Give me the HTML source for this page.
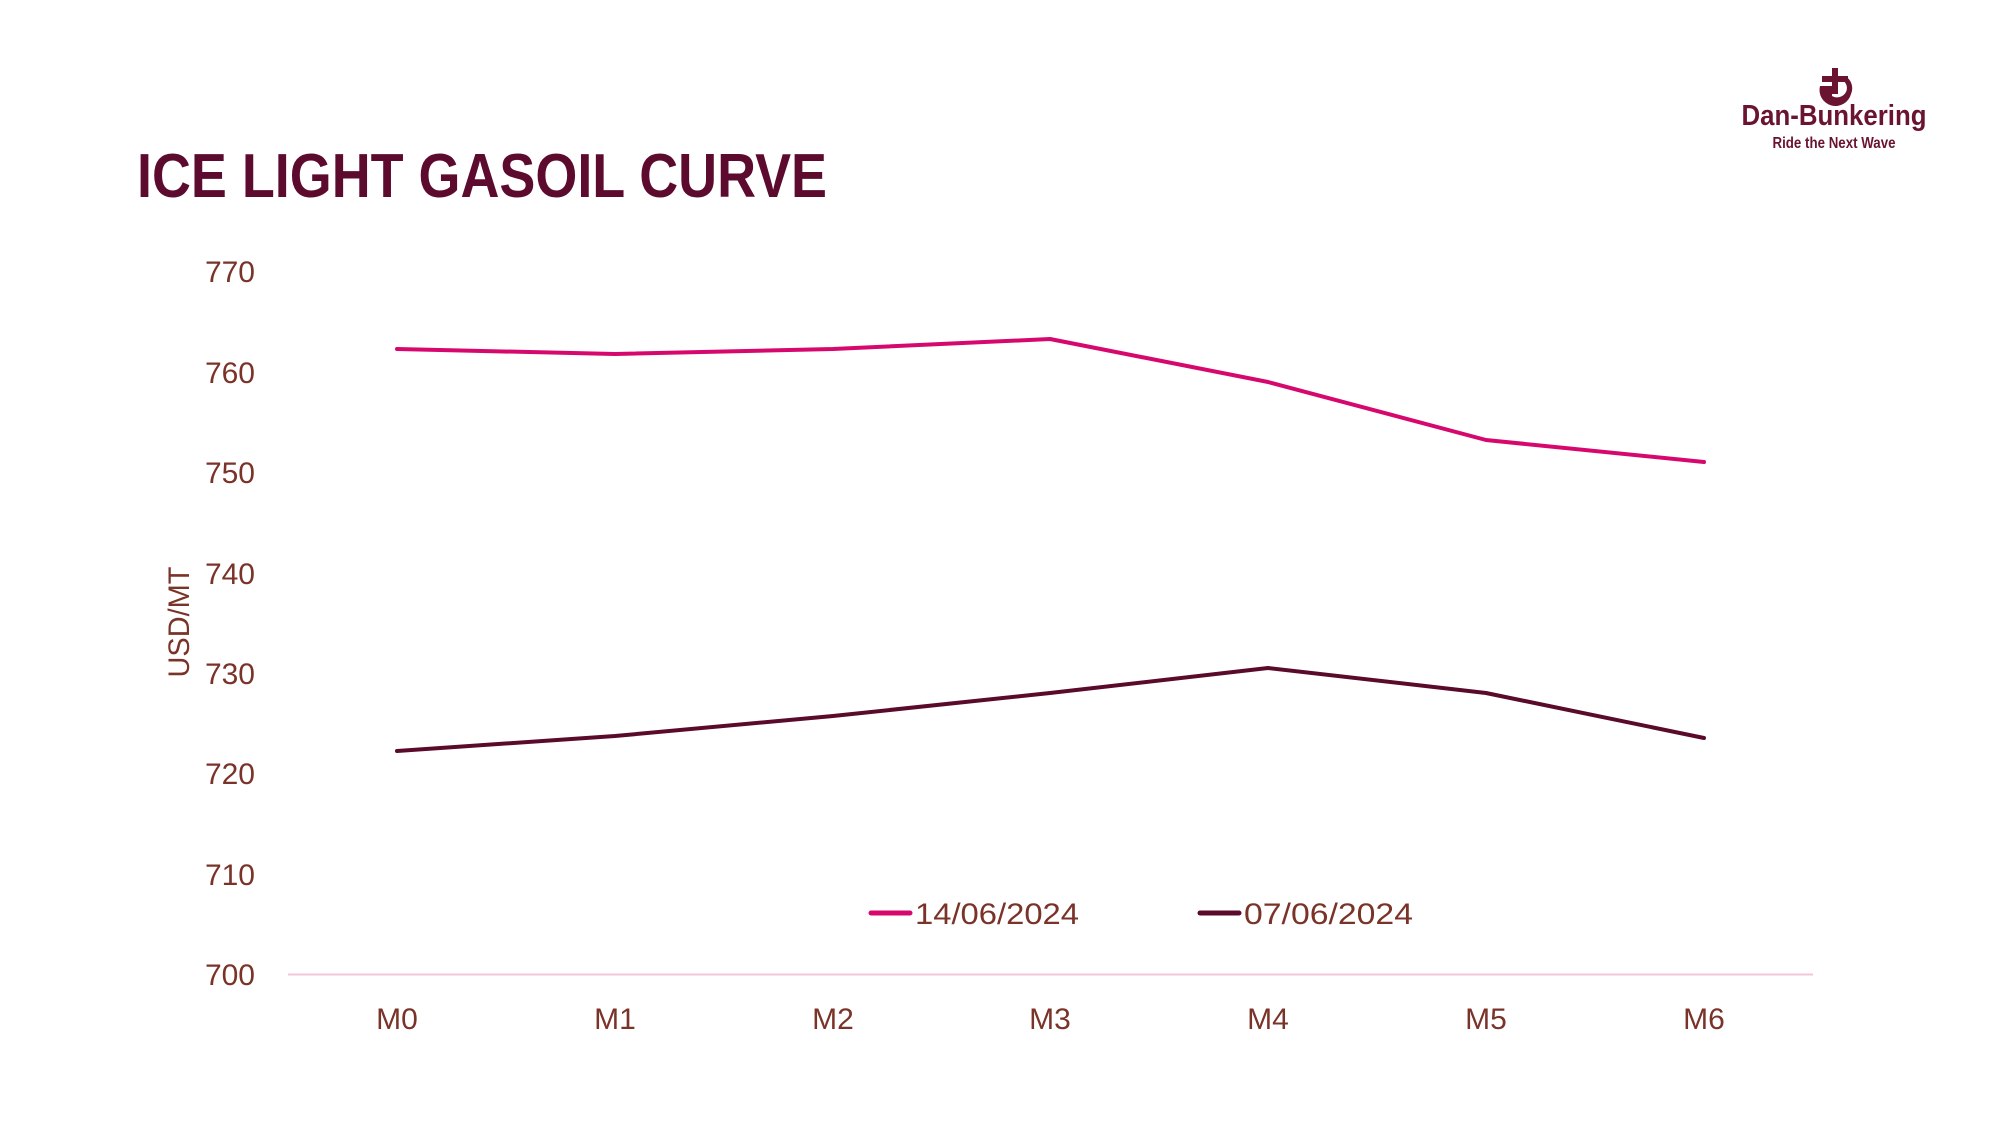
<!DOCTYPE html>
<html><head><meta charset="utf-8"><style>
html,body{margin:0;padding:0;background:#fff;}
svg{display:block;}
text{font-family:"Liberation Sans Narrow","Liberation Sans",sans-serif;}
</style></head><body>
<svg width="2000" height="1125" viewBox="0 0 2000 1125" xmlns="http://www.w3.org/2000/svg">
<rect width="2000" height="1125" fill="#fff"/>
<text x="137" y="197" font-size="62" font-weight="bold" fill="#5c0a2e" textLength="690" lengthAdjust="spacingAndGlyphs">ICE LIGHT GASOIL CURVE</text>
<g fill="#6a1432">
<rect x="1832" y="68" width="6" height="26"/>
<rect x="1822" y="76" width="26" height="6"/>
<path d="M1820 86 h12 v10 a10 10 0 0 0 14 -4 a9 9 0 0 0 -4 -12 l3 -4 a14 14 0 0 1 6 18 a15 15 0 0 1 -31 -8 z"/>
</g>
<text x="1834" y="125" font-size="29" font-weight="bold" fill="#6a1432" text-anchor="middle" font-family="Liberation Sans" textLength="185" lengthAdjust="spacingAndGlyphs">Dan-Bunkering</text>
<text x="1834" y="148" font-size="16" font-weight="bold" fill="#6a1432" text-anchor="middle" font-family="Liberation Sans" textLength="123" lengthAdjust="spacingAndGlyphs">Ride the Next Wave</text>
<g font-size="30" fill="#7a3328" text-anchor="end">
<text x="255" y="282">770</text>
<text x="255" y="383">760</text>
<text x="255" y="483">750</text>
<text x="255" y="584">740</text>
<text x="255" y="684">730</text>
<text x="255" y="784">720</text>
<text x="255" y="885">710</text>
<text x="255" y="985">700</text>
</g>
<text transform="translate(189,622) rotate(-90)" font-size="30" fill="#7a3328" text-anchor="middle" textLength="111" lengthAdjust="spacingAndGlyphs">USD/MT</text>
<line x1="288" y1="974.5" x2="1813" y2="974.5" stroke="#f4c6da" stroke-width="2"/>
<g font-size="30" fill="#7a3328" text-anchor="middle">
<text x="397" y="1029">M0</text>
<text x="615" y="1029">M1</text>
<text x="833" y="1029">M2</text>
<text x="1050" y="1029">M3</text>
<text x="1268" y="1029">M4</text>
<text x="1486" y="1029">M5</text>
<text x="1704" y="1029">M6</text>
</g>
<polyline fill="none" stroke="#d6086e" stroke-width="4" stroke-linejoin="round" stroke-linecap="round"
points="397,349 615,354 833,349 1050,339 1268,382 1486,440 1704,462"/>
<polyline fill="none" stroke="#5a0a2a" stroke-width="4" stroke-linejoin="round" stroke-linecap="round"
points="397,751 615,736 833,716 1050,693 1268,668 1486,693 1704,738"/>
<line x1="871" y1="913" x2="910" y2="913" stroke="#d6086e" stroke-width="5" stroke-linecap="round"/>
<text x="915" y="924" font-size="30" fill="#7a3328" textLength="164" lengthAdjust="spacingAndGlyphs">14/06/2024</text>
<line x1="1200" y1="913" x2="1239" y2="913" stroke="#5a0a2a" stroke-width="5" stroke-linecap="round"/>
<text x="1244" y="924" font-size="30" fill="#7a3328" textLength="169" lengthAdjust="spacingAndGlyphs">07/06/2024</text>
</svg>
</body></html>
